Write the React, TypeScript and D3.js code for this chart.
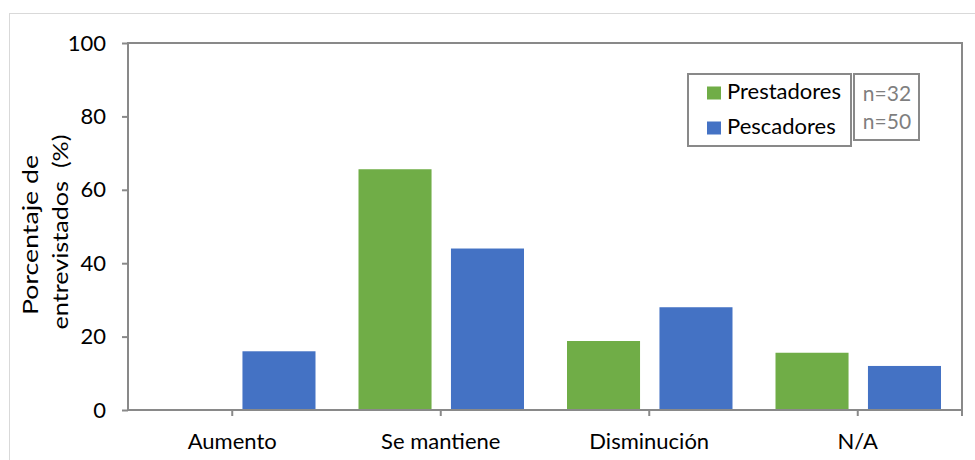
import React, { useEffect, useRef } from 'react';
import * as d3 from 'd3';

const categories = ['Aumento', 'Se mantiene', 'Disminución', 'N/A'];
const prestadores = [0, 65.6, 18.8, 15.6];
const pescadores = [16, 44, 28, 12];
const seriesNames = ['Prestadores', 'Pescadores'];
const seriesN = ['n=32', 'n=50'];
const seriesColors = ['#70ad47', '#4472c4'];
const yTicks = [0, 20, 40, 60, 80, 100];

const W = 975;
const H = 460;
const FONT = 'Lato, "Open Sans", sans-serif';

export default function App() {
  const ref = useRef<SVGSVGElement>(null);

  useEffect(() => {
    const svg = d3.select(ref.current);
    svg.selectAll('*').remove();

    const margin = { top: 43, right: 13, bottom: 50, left: 128 };
    const innerW = W - margin.left - margin.right;
    const innerH = H - margin.top - margin.bottom;
    const axisColor = '#898989';

    // outer chart border
    svg.append('rect')
      .attr('x', 9.5).attr('y', 13.5)
      .attr('width', W + 10).attr('height', H)
      .attr('fill', 'white').attr('stroke', '#d9d9d9');

    const g = svg.append('g').attr('transform', `translate(${margin.left},${margin.top})`);

    const x0 = d3.scaleBand().domain(categories).range([0, innerW]).paddingInner(0).paddingOuter(0);
    const x1 = d3.scaleBand().domain(seriesNames).range([22, x0.bandwidth() - 21]).paddingInner(0.21);
    const y = d3.scaleLinear().domain([0, 100]).range([innerH, 0]);

    const rows = categories.map((c, i) => ({ c, vals: [prestadores[i], pescadores[i]] }));

    const groups = g.selectAll('g.cat').data(rows).enter().append('g')
      .attr('transform', d => `translate(${x0(d.c)},0)`);
    groups.selectAll('rect')
      .data(d => d.vals.map((v, j) => ({ v, s: seriesNames[j], j })))
      .enter().append('rect')
      .attr('x', d => x1(d.s)!)
      .attr('width', x1.bandwidth())
      .attr('y', d => y(d.v))
      .attr('height', d => innerH - y(d.v))
      .attr('fill', d => seriesColors[d.j]);

    // plot frame
    g.append('rect')
      .attr('x', 0).attr('y', 0).attr('width', innerW).attr('height', innerH)
      .attr('fill', 'none').attr('stroke', axisColor).attr('stroke-width', 2);

    // y axis
    const yAxis = g.append('g').call(d3.axisLeft(y).tickValues(yTicks).tickSize(6).tickPadding(16));
    yAxis.select('.domain').remove();
    yAxis.selectAll('line').attr('stroke', axisColor).attr('stroke-width', 2);
    yAxis.selectAll('text').attr('font-family', FONT).attr('font-size', 22).attr('fill', '#000');

    // x axis
    const xAxis = g.append('g').attr('transform', `translate(0,${innerH})`)
      .call(d3.axisBottom(x0).tickSize(6).tickPadding(17));
    xAxis.select('.domain').remove();
    xAxis.selectAll('line').attr('stroke', axisColor).attr('stroke-width', 2);
    xAxis.selectAll('text').attr('font-family', FONT).attr('font-size', 22).attr('fill', '#000');
    g.append('line')
      .attr('x1', innerW).attr('x2', innerW).attr('y1', innerH).attr('y2', innerH + 6)
      .attr('stroke', axisColor).attr('stroke-width', 2);

    // y axis title (two lines)
    const titleLines = [
      { t: 'Porcentaje de', x: 38, cy: 235, len: 160 },
      { t: 'entrevistados  (%)', x: 68, cy: 232, len: 195 },
    ];
    titleLines.forEach(l => {
      svg.append('text')
        .attr('transform', `translate(${l.x},${l.cy}) rotate(-90)`)
        .attr('text-anchor', 'middle')
        .attr('textLength', l.len)
        .attr('lengthAdjust', 'spacingAndGlyphs')
        .style('white-space', 'pre')
        .attr('font-family', FONT).attr('font-size', 22).attr('fill', '#000')
        .text(l.t);
    });

    // legend
    const lg = svg.append('g');
    lg.append('rect').attr('x', 688).attr('y', 74).attr('width', 163).attr('height', 72)
      .attr('fill', 'white').attr('stroke', axisColor).attr('stroke-width', 2);
    lg.append('rect').attr('x', 854).attr('y', 74).attr('width', 65).attr('height', 66)
      .attr('fill', 'white').attr('stroke', axisColor).attr('stroke-width', 2);
    seriesNames.forEach((s, i) => {
      const base = 99 + i * 35;
      lg.append('rect').attr('x', 707).attr('y', base - 12.5).attr('width', 14).attr('height', 13)
        .attr('fill', seriesColors[i]);
      lg.append('text').attr('x', 727).attr('y', base)
        .attr('font-family', FONT).attr('font-size', 22).attr('fill', '#000').text(s);
      lg.append('text').attr('x', 887).attr('y', 101 + i * 28).attr('text-anchor', 'middle')
        .attr('font-family', FONT).attr('font-size', 21).attr('fill', '#7f7f7f').text(seriesN[i]);
    });
  }, []);

  return (
    <svg ref={ref} width={W} height={H}
      style={{ position: 'absolute', left: 0, top: 0, background: 'white', display: 'block' }} />
  );
}
